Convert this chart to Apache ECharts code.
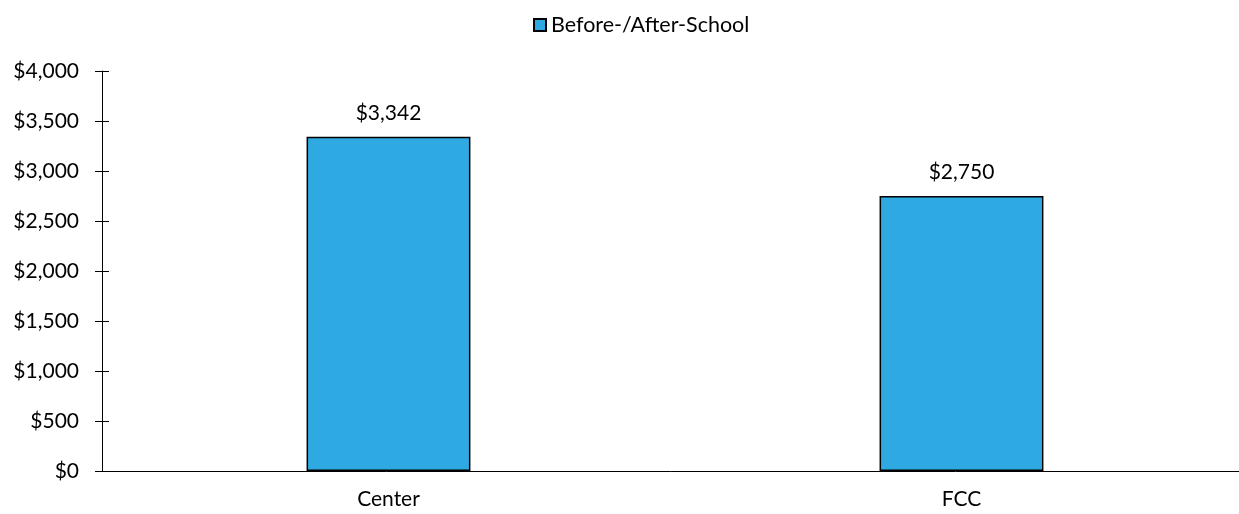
<!DOCTYPE html>
<html>
<head>
<meta charset="utf-8">
<script src="https://cdn.jsdelivr.net/npm/echarts@6/dist/echarts.min.js"></script>
<style>
  html, body { margin: 0; padding: 0; background: #fff; overflow: hidden; }
  #chart { width: 1239px; height: 514px; }
</style>
</head>
<body>
<div id="chart"></div>
<script>
const categories = ["Center", "FCC"];
const seriesName = "Before-/After-School";
const values = [3342, 2750];
const yMin = 0, yMax = 4000, yInterval = 500;

const FONT = "Lato";
const FS = 21;
const money = v => '$' + Number(v).toLocaleString('en-US');
const chart = echarts.init(document.getElementById('chart'), null, { renderer: 'canvas' });
chart.setOption({
  animation: false,
  backgroundColor: '#ffffff',
  textStyle: { fontFamily: FONT },
  legend: {
    data: [seriesName],
    top: 9,
    left: 528,
    itemWidth: 12,
    itemHeight: 12,
    itemGap: 5,
    textStyle: { fontFamily: FONT, fontSize: 21.5, color: '#000' },
    icon: 'rect'
  },
  grid: { left: 102, top: 71, width: 1146, height: 400, containLabel: false, outerBoundsMode: 'none' },
  xAxis: {
    type: 'category',
    data: categories,
    axisLine: { lineStyle: { color: '#000', width: 1 } },
    axisTick: { show: false },
    axisLabel: { color: '#000', fontFamily: FONT, fontSize: FS, margin: 18 }
  },
  yAxis: [{
    type: 'value',
    min: yMin, max: yMax, interval: yInterval,
    axisLine: { show: true, lineStyle: { color: '#000', width: 1 } },
    axisTick: { show: true, inside: false, length: 7, lineStyle: { color: '#000' } },
    splitLine: { show: false },
    axisLabel: {
      color: '#000', fontFamily: FONT, fontSize: FS, margin: 23,
      formatter: money
    }
  }, {
    type: 'value',
    position: 'left',
    min: yMin, max: yMax, interval: yInterval,
    axisLine: { show: false },
    axisTick: { show: true, inside: true, length: 7, lineStyle: { color: '#000' } },
    splitLine: { show: false },
    axisLabel: { show: false }
  }],
  series: [{
    name: seriesName,
    type: 'bar',
    data: values,
    barWidth: '28.6%',
    itemStyle: { color: '#2EA9E1', borderColor: '#000', borderWidth: 1.5 },
    label: {
      show: true, position: 'top', distance: 13,
      color: '#000', fontFamily: FONT, fontSize: FS,
      formatter: p => money(p.value)
    }
  }]
});
</script>
</body>
</html>
